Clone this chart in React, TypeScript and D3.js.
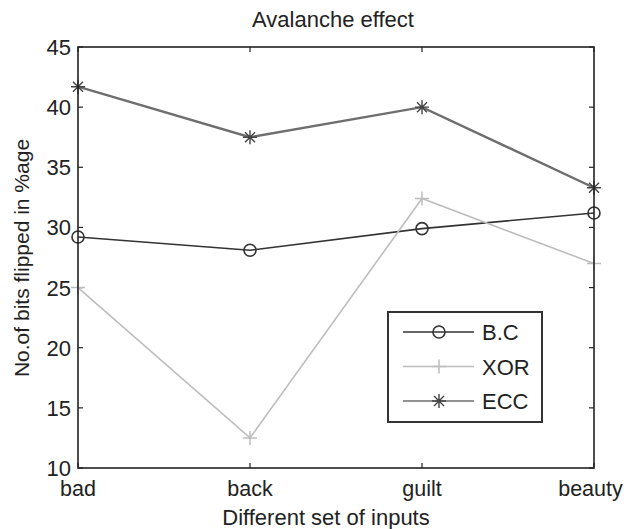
import { useEffect, useRef } from "react";
import * as d3 from "d3";

const categories = ["bad", "back", "guilt", "beauty"];
const bcValues = [29.2, 28.1, 29.9, 31.2];
const xorValues = [25, 12.5, 32.4, 27];
const eccValues = [41.7, 37.5, 40, 33.3];
const yTicks = [10, 15, 20, 25, 30, 35, 40, 45];

const series = [
  { name: "B.C", values: bcValues, color: "#333", width: 1.6, marker: "circle" },
  { name: "XOR", values: xorValues, color: "#bdbdbd", width: 1.6, marker: "plus" },
  { name: "ECC", values: eccValues, color: "#6e6e6e", width: 2.4, marker: "star" },
];

export default function App() {
  const ref = useRef<SVGSVGElement>(null);

  useEffect(() => {
    const svg = d3.select(ref.current);
    svg.selectAll("*").remove();
    const left = 78, right = 594, top = 47, bottom = 468;
    const font = "Liberation Sans, Arial, sans-serif";

    const x = d3.scalePoint().domain(categories).range([left, right]);
    const y = d3.scaleLinear().domain([10, 45]).range([bottom, top]);

    svg.append("rect").attr("width", 624).attr("height", 529).attr("fill", "#fff");

    // ticks on all four sides, pointing inward
    const tl = 5;
    const g = svg.append("g").attr("stroke", "#222").attr("stroke-width", 1.2);
    yTicks.forEach((t) => {
      g.append("line").attr("x1", left).attr("x2", left + tl).attr("y1", y(t)).attr("y2", y(t));
      g.append("line").attr("x1", right).attr("x2", right - tl).attr("y1", y(t)).attr("y2", y(t));
    });
    categories.forEach((c) => {
      g.append("line").attr("x1", x(c)!).attr("x2", x(c)!).attr("y1", bottom).attr("y2", bottom - tl);
      g.append("line").attr("x1", x(c)!).attr("x2", x(c)!).attr("y1", top).attr("y2", top + tl);
    });

    svg.selectAll(".ytl").data(yTicks).enter().append("text")
      .attr("x", left - 7).attr("y", (d) => y(d) + 8)
      .attr("text-anchor", "end").attr("font-family", font).attr("font-size", 22)
      .attr("fill", "#222").text((d) => d);

    // last label is pushed in so it stays on the page
    svg.selectAll(".xtl").data(categories).enter().append("text")
      .attr("x", (d) => x(d)!).attr("y", bottom + 28)
      .attr("text-anchor", "middle").attr("font-family", font).attr("font-size", 21.5)
      .attr("fill", "#222").text((d) => d)
      .each(function () {
        const el = this as SVGTextElement;
        const b = el.getBBox();
        if (b.x + b.width > 623) el.setAttribute("x", String(+el.getAttribute("x")! - (b.x + b.width - 623)));
      });

    const line = d3.line<number>()
      .x((_, i) => x(categories[i])!)
      .y((d) => y(d));

    const drawMarker = (sel: any, type: string, color: string, cx: number, cy: number) => {
      if (type === "circle") {
        sel.append("circle").attr("cx", cx).attr("cy", cy).attr("r", 6)
          .attr("fill", "none").attr("stroke", color).attr("stroke-width", 1.6);
      } else if (type === "plus") {
        sel.append("path").attr("d", `M${cx - 7},${cy}H${cx + 7}M${cx},${cy - 7}V${cy + 7}`)
          .attr("stroke", color).attr("stroke-width", 1.5);
      } else {
        sel.append("path")
          .attr("d", `M${cx - 7},${cy}H${cx + 7}M${cx},${cy - 7}V${cy + 7}M${cx - 5},${cy - 5}L${cx + 5},${cy + 5}M${cx - 5},${cy + 5}L${cx + 5},${cy - 5}`)
          .attr("stroke", "#444").attr("stroke-width", 1.4);
      }
    };

    series.forEach((s) => {
      svg.append("path").datum(s.values).attr("d", line)
        .attr("fill", "none").attr("stroke", s.color).attr("stroke-width", s.width);
      s.values.forEach((v, i) => drawMarker(svg, s.marker, s.color, x(categories[i])!, y(v)));
    });

    // axes box
    svg.append("rect").attr("x", left).attr("y", top)
      .attr("width", right - left).attr("height", bottom - top)
      .attr("fill", "none").attr("stroke", "#222").attr("stroke-width", 1.6);

    // legend
    const lg = svg.append("g");
    lg.append("rect").attr("x", 388).attr("y", 312).attr("width", 154).attr("height", 110)
      .attr("fill", "#fff").attr("stroke", "#333").attr("stroke-width", 2);
    series.forEach((s, i) => {
      const ly = 332 + i * 34.5;
      lg.append("line").attr("x1", 403).attr("x2", 474).attr("y1", ly).attr("y2", ly)
        .attr("stroke", s.color).attr("stroke-width", 1.6);
      drawMarker(lg, s.marker, s.color, 439, ly);
      lg.append("text").attr("x", 482).attr("y", ly + 8)
        .attr("font-family", font).attr("font-size", 22).attr("fill", "#222").text(s.name);
    });

    svg.append("text").attr("x", 333).attr("y", 27)
      .attr("text-anchor", "middle").attr("font-family", font).attr("font-size", 22)
      .attr("fill", "#222").text("Avalanche effect");

    svg.append("text").attr("x", 326).attr("y", 525)
      .attr("text-anchor", "middle").attr("font-family", font).attr("font-size", 22)
      .attr("fill", "#222").text("Different set of inputs");

    svg.append("text")
      .attr("transform", `translate(29,258) rotate(-90)`)
      .attr("text-anchor", "middle").attr("font-family", font).attr("font-size", 21)
      .attr("fill", "#222").text("No.of bits flipped in %age");
  }, []);

  return (
    <svg ref={ref} width={624} height={529}
      style={{ position: "absolute", left: 0, top: 0, display: "block" }} />
  );
}
